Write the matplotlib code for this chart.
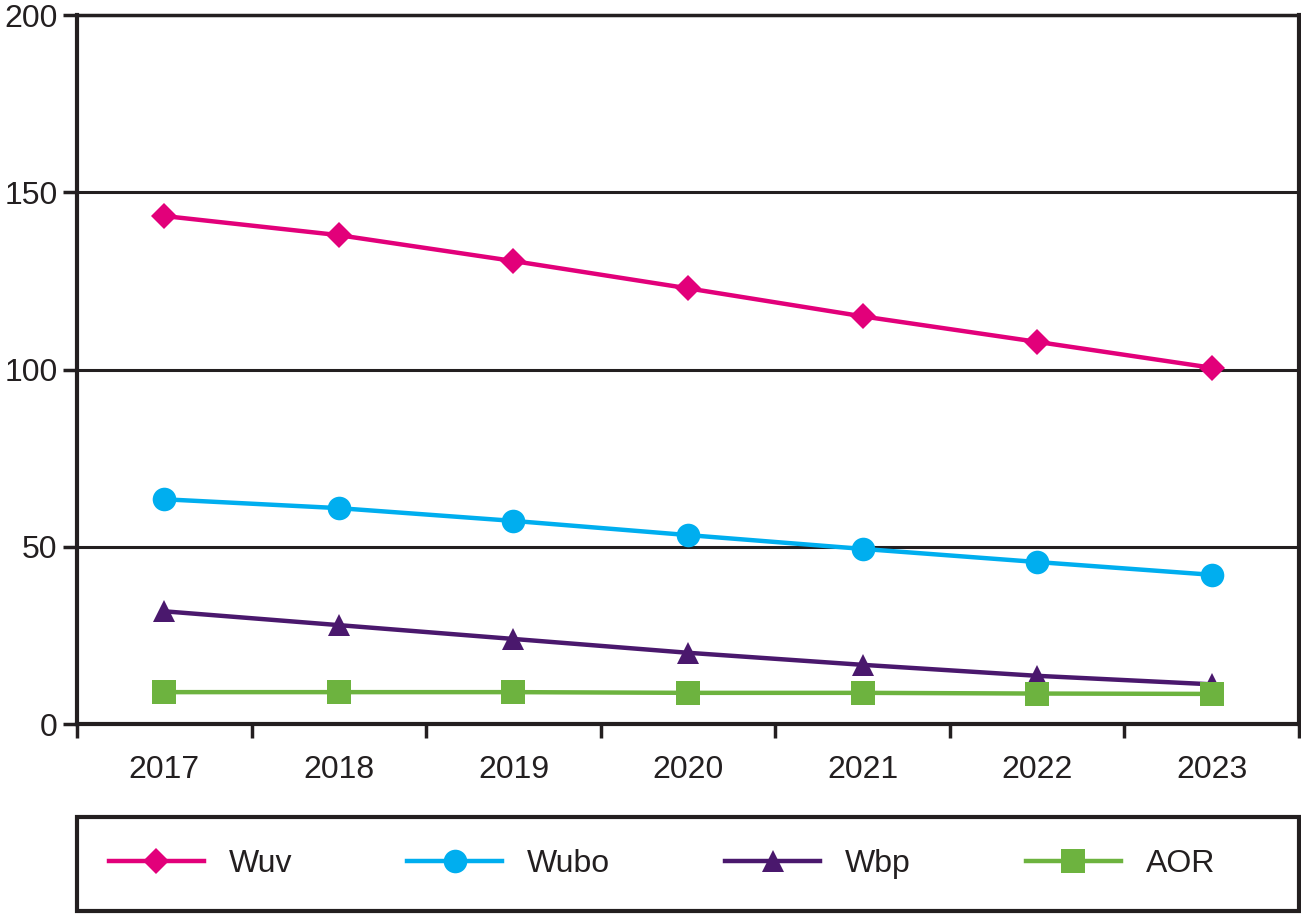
import matplotlib
matplotlib.use('Agg')
import matplotlib.pyplot as plt
from matplotlib.patches import Rectangle
import numpy as np

plt.rcParams['font.family'] = ['Liberation Sans', 'DejaVu Sans']

# data
years = ['2017', '2018', '2019', '2020', '2021', '2022', '2023']
wuv = [143.3, 137.9, 130.6, 122.9, 115.0, 107.8, 100.5]
wubo = [63.4, 60.9, 57.3, 53.3, 49.4, 45.7, 42.1]
wbp = [31.8, 27.9, 24.0, 20.1, 16.7, 13.6, 11.2]
aor = [9.0, 9.0, 9.0, 8.8, 8.8, 8.6, 8.5]

series_names = ['Wuv', 'Wubo', 'Wbp', 'AOR']
colors = ['#E2007A', '#00AEEF', '#4A186D', '#6DB33F']
markers = ['D', 'o', '^', 's']
msizes = [13, 17, 16, 17]

dark = '#231F20'

fig = plt.figure(figsize=(13.01, 9.15), dpi=100)
ax = fig.add_axes([0.0592, 0.2087, 0.9393, 0.7749])

x = np.arange(len(years))
for vals, name, c, m, ms in zip([wuv, wubo, wbp, aor], series_names, colors, markers, msizes):
    ax.plot(x, vals, color=c, lw=3.2, marker=m, markersize=ms, label=name,
            markeredgewidth=0, clip_on=False, zorder=3)

ax.set_xlim(-0.5, len(years) - 0.5)
ax.set_ylim(0, 200)
ax.set_yticks([0, 50, 100, 150, 200])
ax.yaxis.grid(True, color=dark, lw=2.2)
ax.set_axisbelow(True)

# tick marks between categories, labels in the middle
ax.set_xticks(np.arange(-0.5, len(years), 1.0))
ax.set_xticklabels([])
ax.set_xticks(x, minor=True)
ax.set_xticklabels(years, minor=True)
ax.tick_params(axis='x', which='minor', length=0, pad=22, labelsize=23, colors=dark)
ax.tick_params(axis='x', which='major', length=10, width=2.5, color=dark, direction='out')
ax.tick_params(axis='y', length=10, width=2.5, color=dark, labelsize=23, pad=4, labelcolor=dark)

for side in ['left', 'bottom', 'right']:
    ax.spines[side].set_linewidth(3)
    ax.spines[side].set_color(dark)
ax.spines['top'].set_linewidth(2.5)
ax.spines['top'].set_color(dark)

# legend box
box = Rectangle((0.0592, 0.0049), 0.9393, 0.1022, transform=fig.transFigure,
                fill=False, edgecolor=dark, lw=3)
fig.patches.append(box)

leg = fig.legend(loc='center left', bbox_to_anchor=(0.0592, 0.056),
                 ncol=4, fontsize=23, frameon=False,
                 handlelength=2.97, handletextpad=0.78, columnspacing=3.6,
                 borderaxespad=0, borderpad=1.0, labelcolor=dark)

fig.savefig('out.png', dpi=100)
